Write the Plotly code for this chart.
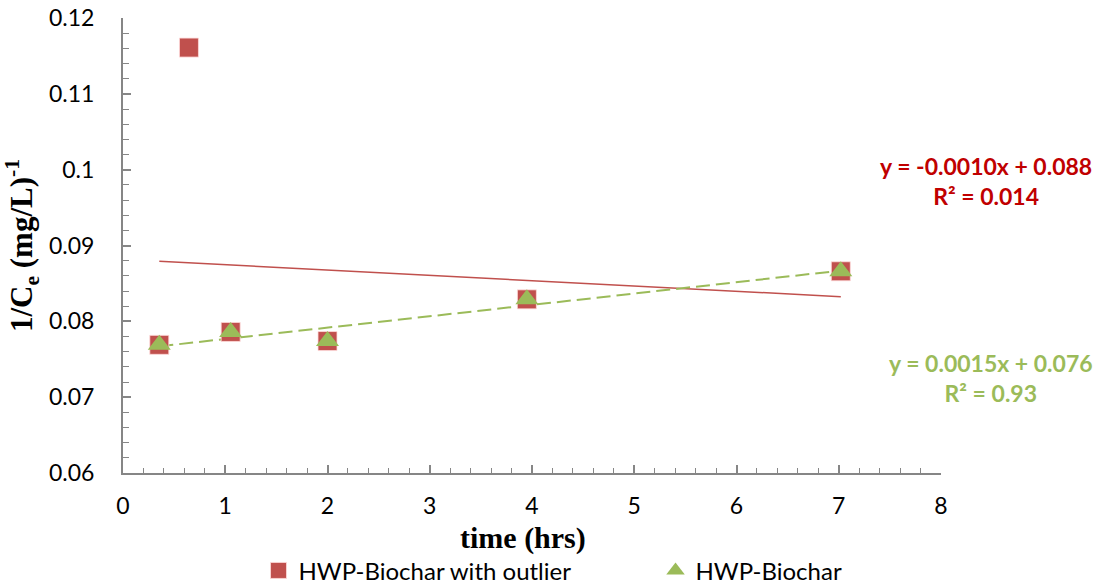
import numpy as np
import plotly.graph_objects as go

# Adsorption data: time (hrs) vs 1/Ce ((mg/L)^-1)
time_all = [0.355, 0.645, 1.053, 2.0, 3.95, 7.02]
inv_ce_all = [0.0769, 0.1161, 0.0786, 0.0774, 0.0829, 0.0866]

time_clean = [0.355, 1.053, 2.0, 3.95, 7.02]
inv_ce_clean = [0.0769, 0.0786, 0.0774, 0.0829, 0.0866]

eq_outlier = ["y = -0.0010x + 0.088", "R² = 0.014"]
eq_clean = ["y = 0.0015x + 0.076", "R² = 0.93"]

RED = "#C0504D"
GREEN = "#9BBB59"
AXIS = "#868686"
SANS = "Lato"
SERIF = "Liberation Serif"

def linear_fit(x, y):
    x = np.asarray(x, float)
    y = np.asarray(y, float)
    m, b = np.polyfit(x, y, 1)
    xs = np.array([x.min(), x.max()])
    return xs, m * xs + b

fig = go.Figure()

# least-squares trendlines over each series' x-range
xr, yr = linear_fit(time_all, inv_ce_all)
fig.add_trace(go.Scatter(x=xr, y=yr, mode="lines", showlegend=False,
                         line=dict(color=RED, width=1.5), hoverinfo="skip"))
xg, yg = linear_fit(time_clean, inv_ce_clean)
fig.add_trace(go.Scatter(x=xg, y=yg, mode="lines", showlegend=False,
                         line=dict(color=GREEN, width=2, dash="14px,6px"), hoverinfo="skip"))

fig.add_trace(go.Scatter(
    x=time_all, y=inv_ce_all, mode="markers", name="HWP-Biochar with outlier",
    marker=dict(symbol="square", size=19, color=RED,
                line=dict(color="rgba(255,220,220,0.8)", width=1))))
fig.add_trace(go.Scatter(
    x=time_clean, y=inv_ce_clean, mode="markers", name="HWP-Biochar",
    marker=dict(symbol="triangle-up", size=20, color=GREEN,
                line=dict(color=GREEN, width=0))))

# trendline equations
fig.add_annotation(x=1.0, xref="paper", xanchor="left", xshift=-63,
                   y=0.0985, yref="y", yanchor="middle",
                   text="<b>" + "<br>".join(eq_outlier) + "</b>", showarrow=False,
                   align="center", font=dict(family=SANS, size=23, color="#C00000"))
fig.add_annotation(x=1.0, xref="paper", xanchor="left", xshift=-54,
                   y=0.0725, yref="y", yanchor="middle",
                   text="<b>" + "<br>".join(eq_clean) + "</b>", showarrow=False,
                   align="center", font=dict(family=SANS, size=23, color=GREEN))

# x-axis title
fig.add_annotation(x=0.489, xref="paper", xanchor="center",
                   y=-0.143, yref="paper", yanchor="middle",
                   text="<b>time (hrs)</b>", showarrow=False,
                   font=dict(family=SERIF, size=30, color="black"))

fig.update_layout(
    width=1102, height=588,
    margin=dict(l=123, r=161, t=18, b=115, autoexpand=False),
    plot_bgcolor="white", paper_bgcolor="white",
    font=dict(family=SANS, size=23, color="black"),
    showlegend=True,
    legend=dict(orientation="h", x=0.651, xanchor="center", y=-0.215, yanchor="middle",
                font=dict(family=SANS, size=24, color="black"),
                entrywidth=352, itemsizing="trace", bgcolor="rgba(0,0,0,0)"),
)

fig.update_xaxes(
    range=[0, 8], dtick=1, showgrid=False, zeroline=False,
    showline=True, linecolor=AXIS, linewidth=2,
    ticks="inside", ticklen=8, tickcolor=AXIS, tickwidth=1.5,
    minor=dict(dtick=0.2, ticks="inside", ticklen=5, tickcolor=AXIS, tickwidth=1.2, showgrid=False),
    ticklabelstandoff=11,
    tickfont=dict(family=SANS, size=23),
)
fig.update_yaxes(
    range=[0.06, 0.12], dtick=0.01, showgrid=False, zeroline=False,
    showline=True, linecolor=AXIS, linewidth=2,
    ticks="inside", ticklen=8, tickcolor=AXIS, tickwidth=1.5,
    minor=dict(dtick=0.002, ticks="inside", ticklen=6, tickcolor=AXIS, tickwidth=1.2, showgrid=False),
    ticklabelstandoff=22,
    tickfont=dict(family=SANS, size=23),
    title=dict(text="<b>1/C<sub>e</sub> (mg/L)<sup>-1</sup></b>", font=dict(family=SERIF, size=31), standoff=10),
)

fig.write_html("out.html")
